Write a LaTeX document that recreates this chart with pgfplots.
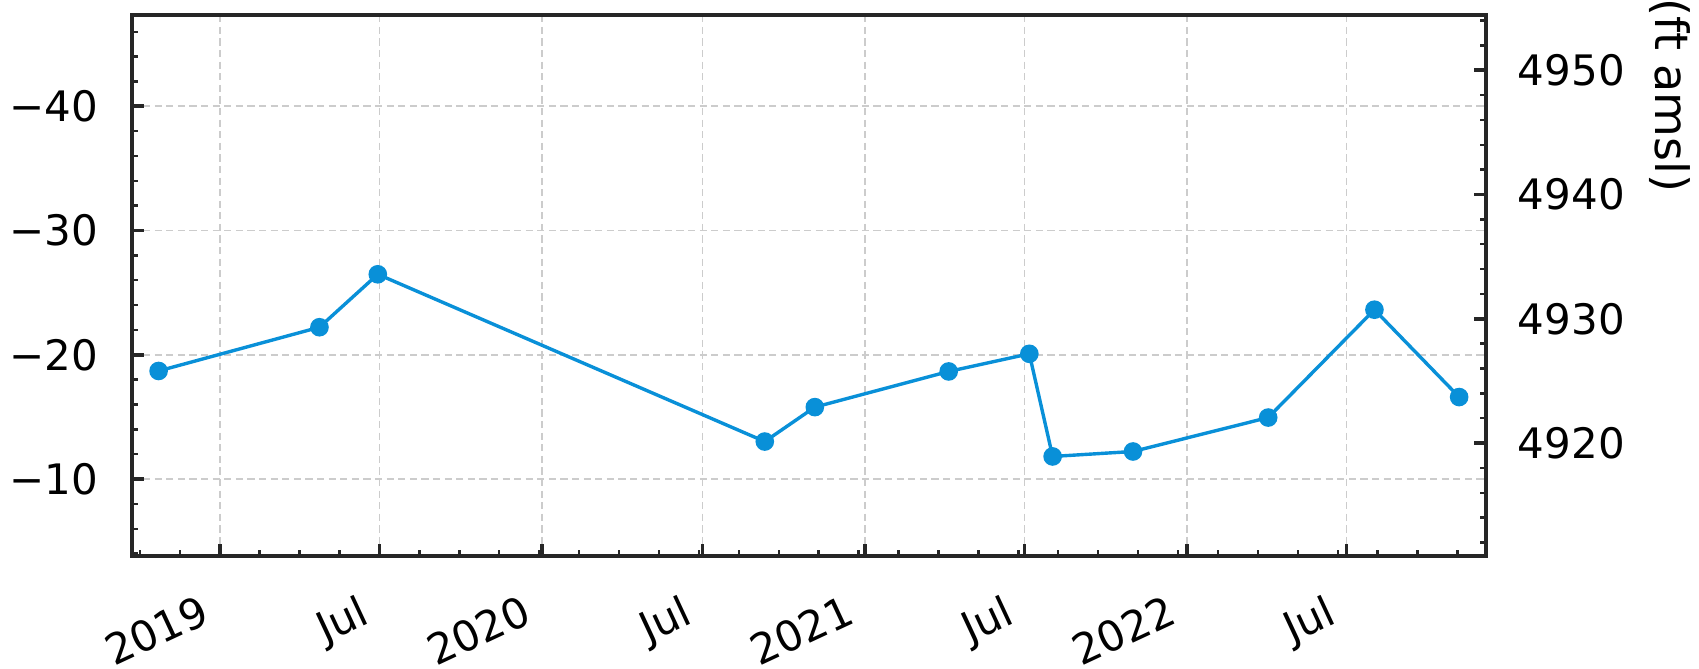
\documentclass[border=0pt]{standalone}
\usepackage{fontspec}
\setmainfont{DejaVu Sans}
\usepackage{pgfplots}
\pgfplotsset{compat=1.18}
\definecolor{lineblue}{RGB}{9,144,216}
\definecolor{framegray}{RGB}{38,38,38}
\definecolor{gridgray}{RGB}{204,204,204}

\begin{document}
\begin{tikzpicture}
\path[use as bounding box] (-32.9pt,-28.15pt) rectangle (392.1pt,139.1pt);
\pgfplotsset{
 common/.style={
  scale only axis, width=338.85pt, height=135.3pt,
  at={(0,0)}, anchor=south west,
  xmin=-100, xmax=1435.2,
  axis line style={framegray, line width=1pt},
  tick style={framegray},
  major tick length=3pt, minor tick length=1.6pt,
  every major tick/.append style={line width=0.9pt},
  every minor tick/.append style={line width=0.6pt},
  tick align=inside,
  tick label style={font=\fontsize{10.5}{12.5}\selectfont},
 }
}
\begin{axis}[common,
  y dir=reverse,
  ymin=-47.33, ymax=-3.8,
  ytick={-40,-30,-20,-10}, yticklabels={−40,−30,−20,−10},
  minor ytick={-46,-44,...,-4},
  xtick={0,181,365,547,731,912,1096,1277},
  xticklabels={2019,Jul,2020,Jul,2021,Jul,2022,Jul},
  minor xtick={-90.5,-45.25,...,1403},
  xtick pos=left, ytick pos=left,
  grid=major,
  major grid style={gridgray, line width=0.45pt, dash pattern=on 1.8pt off 1.1pt},
  yticklabel style={anchor=east, inner sep=0pt, xshift=-8.1pt},
  xticklabel style={xshift=-5.3pt, yshift=-9.1pt, rotate=25, anchor=north east, inner sep=0pt},
]
\addplot[lineblue, line width=0.85pt, mark=*, mark size=1.9pt,
  mark options={solid, fill=lineblue, draw=lineblue}] coordinates {
  (-69.3,-18.70)
  (113.0,-22.22)
  (179.1,-26.48)
  (617.7,-13.02)
  (674.4,-15.79)
  (826.1,-18.66)
  (917.5,-20.08)
  (943.9,-11.82)
  (1035.0,-12.22)
  (1188.2,-14.95)
  (1308.6,-23.63)
  (1404.6,-16.60)
};
\end{axis}
\begin{axis}[common,
  ymin=4910.9, ymax=4954.43,
  axis x line=none,
  axis y line*=right,
  ytick={4920,4930,4940,4950},
  yticklabels={4920,4930,4940,4950},
  minor ytick={4912,4914,...,4954},
  yticklabel style={anchor=west, inner sep=0pt, xshift=7.75pt},
]
\addplot[draw=none] coordinates {(0,4930)};
\end{axis}
\node[rotate=-90, anchor=east, inner sep=0pt, font=\fontsize{11.5}{13}\selectfont] at (384.8pt,90.8pt) {(ft amsl)};
\end{tikzpicture}
\end{document}
